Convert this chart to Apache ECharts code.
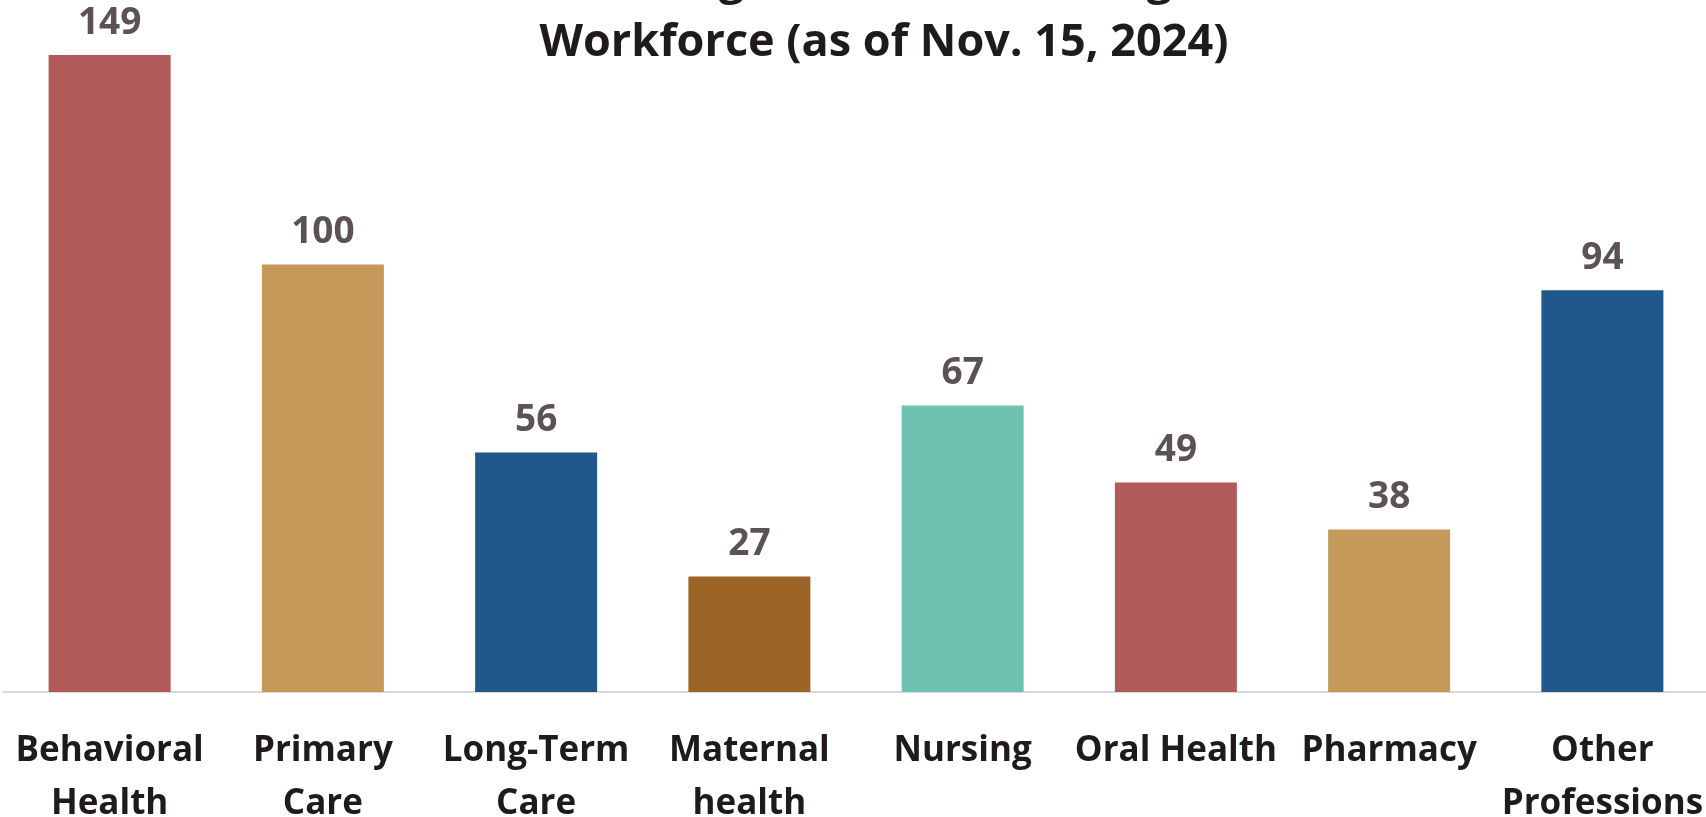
<!DOCTYPE html>
<html>
<head>
<meta charset="utf-8">
<script src="https://cdn.jsdelivr.net/npm/echarts@6/dist/echarts.min.js"></script>
<style>
  html, body { margin: 0; padding: 0; background: #fff; }
  #chart { width: 1706px; height: 817px; }
</style>
</head>
<body>
<div id="chart"></div>
<script>
const categories = ['Behavioral\nHealth', 'Primary\nCare', 'Long-Term\nCare', 'Maternal\nhealth', 'Nursing', 'Oral Health', 'Pharmacy', 'Other\nProfessions']
const values = [149, 100, 56, 27, 67, 49, 38, 94]
const barColors = ['#b05a59', '#c4995a', '#21588b', '#9c6426', '#70c2b0', '#b05a59', '#c4995a', '#21588b']
const titleLines = ['2024 Enacted State Legislation Addressing the Health Care', 'Workforce (as of Nov. 15, 2024)']

const font = '"Open Sans", "Liberation Sans", sans-serif'
const myChart = echarts.init(document.getElementById('chart'))

myChart.setOption({
  animation: false,
  backgroundColor: '#fff',
  title: {
    text: titleLines.join('\n'),
    left: 879,
    top: -55,
    textAlign: 'center',
    textStyle: {
      fontFamily: font,
      fontSize: 45,
      fontWeight: 'bold',
      color: '#1f1b1c',
      lineHeight: 62,
    },
  },
  grid: {
    left: 3,
    width: 1706,
    top: 8,
    bottom: 125,
    outerBoundsMode: 'none',
    containLabel: false,
  },
  xAxis: {
    type: 'category',
    data: categories,
    axisTick: { show: false },
    axisLine: {
      show: true,
      lineStyle: { color: '#d9d9d9', width: 2 },
    },
    axisLabel: {
      interval: 0,
      margin: 33,
      color: '#1f1b1c',
      fontFamily: font,
      fontSize: 35,
      fontWeight: 'bold',
      lineHeight: 53,
    },
  },
  yAxis: {
    type: 'value',
    min: 0,
    max: 160,
    show: false,
    splitLine: { show: false },
  },
  series: [
    {
      type: 'bar',
      barWidth: 122,
      data: values.map((v, i) => {
        return {
          value: v,
          itemStyle: { color: barColors[i] },
        }
      }),
      label: {
        show: true,
        position: 'top',
        distance: 12,
        color: '#5c5256',
        fontFamily: font,
        fontSize: 37,
        fontWeight: 'bold',
        lineHeight: 40,
      },
    },
  ],
})
</script>
</body>
</html>
